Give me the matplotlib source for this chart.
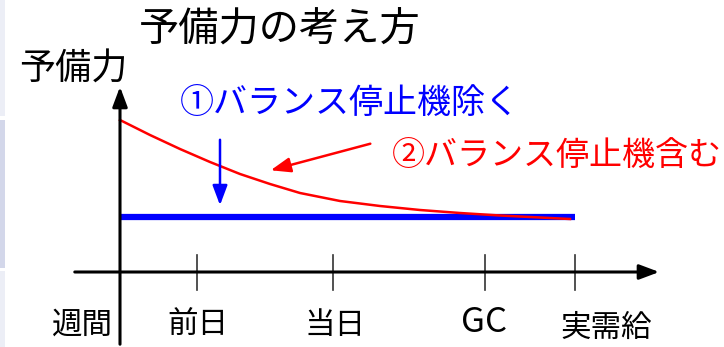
import matplotlib.pyplot as plt
import matplotlib.patches as mpatches

plt.rcParams['font.family'] = ['Noto Sans CJK JP', 'DejaVu Sans']

# Data (in picture units)
tick_x = [197, 333, 485, 575]
tick_labels = ['前日', '当日', 'GC', '実需給']
label_x = [198, 335, 484, 606]
label_y = [325, 325, 323, 328]
label_size = [22, 22, 25, 22]

# reserve without balancing-stop units (flat)
blue_x = [120, 575]
blue_y = [217, 217]

# reserve including balancing-stop units (decaying)
red_x = [120, 150, 180, 210, 240, 270, 300, 340, 380, 420, 460, 500, 540, 570]
red_y = [120, 135, 149, 162, 174, 184, 193, 201, 206, 210, 213, 215.5, 217.5, 219]

fig = plt.figure(figsize=(7.24, 3.47), dpi=100)
ax = fig.add_axes([0, 0, 1, 1])
ax.set_xlim(0, 724)
ax.set_ylim(347, 0)
ax.axis('off')

# left edge strips (slide sidebar)
ax.add_patch(mpatches.Rectangle((0, 0), 5, 116, color='#eceef6', lw=0))
ax.add_patch(mpatches.Rectangle((0, 120), 5, 148, color='#d3d7ea', lw=0))
ax.add_patch(mpatches.Rectangle((0, 271), 5, 76, color='#eceef6', lw=0))

# axes
ax.annotate('', xy=(662, 272), xytext=(72, 272),
            arrowprops=dict(arrowstyle='-|>,head_length=1.2,head_width=0.45', color='black', lw=2.2))
ax.annotate('', xy=(120, 84), xytext=(120, 347),
            arrowprops=dict(arrowstyle='-|>,head_length=1.2,head_width=0.45', color='black', lw=2.2))
for x in tick_x:
    ax.plot([x, x], [255, 290], color='#333333', lw=1.2)

# series
ax.plot(blue_x, blue_y, color='#0000ff', lw=4.5, solid_capstyle='butt')
ax.plot(red_x, red_y, color='#ff0000', lw=1.8)

# pointer arrows
ax.annotate('', xy=(220, 208), xytext=(220, 137),
            arrowprops=dict(arrowstyle='-|>,head_length=1.2,head_width=0.45', color='#0000ff', lw=1.8))
ax.annotate('', xy=(268, 171), xytext=(373, 143),
            arrowprops=dict(arrowstyle='-|>,head_length=1.2,head_width=0.45', color='#ff0000', lw=1.8))

# texts
ax.text(280, 30, '予備力の考え方', fontsize=29, ha='center', va='center')
ax.text(73, 70, '予備力', fontsize=26, ha='center', va='center')
ax.text(350, 103, '①バランス停止機除く', fontsize=24.5, color='#0000ff', ha='center', va='center')
ax.text(557, 155, '②バランス停止機含む', fontsize=23.8, color='#ff0000', ha='center', va='center')
ax.text(82, 325, '週間', fontsize=22, ha='center', va='center')
for x, y, s, lab in zip(label_x, label_y, label_size, tick_labels):
    ax.text(x, y, lab, fontsize=s, ha='center', va='center')

fig.savefig('out.png', dpi=100)
